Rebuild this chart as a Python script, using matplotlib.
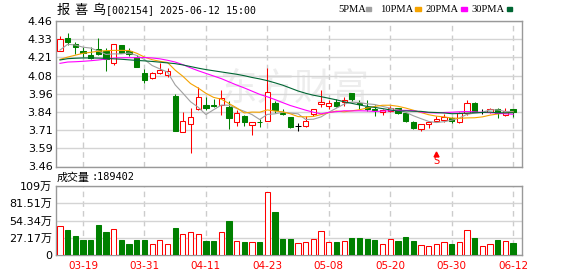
#!/usr/bin/env python
import numpy as np
import matplotlib
matplotlib.use("Agg")
import matplotlib.pyplot as plt
from matplotlib.patches import Rectangle

plt.rcParams["font.family"] = ["DejaVu Sans", "Noto Sans CJK SC"]

W, H = 578, 276

opens = [4.256, 4.343, 4.302, 4.256, 4.226, 4.265, 4.256, 4.174, 4.295, 4.256,
         4.210, 4.105, 4.070, 4.105, 4.089, 3.945, 3.700, 3.750, 3.853, 3.881,
         3.881, 3.881, 3.867, 3.764, 3.807, 3.744, 3.768, 3.775, 3.899, 3.826,
         3.799, 3.739, 3.741, 3.819, 3.891, 3.878, 3.906, 3.904, 3.963, 3.899,
         3.871, 3.856, 3.833, 3.844, 3.860, 3.830, 3.766, 3.718, 3.753, 3.775,
         3.780, 3.793, 3.766, 3.830, 3.895, 3.833, 3.835, 3.853, 3.815, 3.856]
highs = [4.357, 4.380, 4.316, 4.279, 4.279, 4.343, 4.272, 4.302, 4.295, 4.272,
         4.224, 4.128, 4.112, 4.174, 4.135, 3.958, 3.837, 3.860, 4.009, 3.940,
         3.924, 3.986, 3.913, 3.849, 3.812, 3.764, 3.787, 4.135, 3.913, 3.853,
         3.799, 3.762, 3.810, 3.858, 3.986, 3.917, 3.922, 3.940, 3.968, 3.917,
         3.917, 3.881, 3.858, 3.876, 3.864, 3.835, 3.773, 3.753, 3.773, 3.807,
         3.819, 3.800, 3.837, 3.917, 3.902, 3.853, 3.864, 3.862, 3.860, 3.856]
lows = [4.256, 4.297, 4.233, 4.215, 4.196, 4.224, 4.119, 4.160, 4.238, 4.219,
        4.142, 4.036, 4.059, 4.096, 4.073, 3.706, 3.700, 3.555, 3.849, 3.849,
        3.867, 3.814, 3.720, 3.741, 3.739, 3.679, 3.734, 3.772, 3.830, 3.812,
        3.727, 3.707, 3.734, 3.807, 3.867, 3.853, 3.867, 3.878, 3.913, 3.858,
        3.844, 3.810, 3.814, 3.837, 3.821, 3.768, 3.716, 3.704, 3.727, 3.764,
        3.766, 3.762, 3.762, 3.814, 3.833, 3.819, 3.826, 3.793, 3.807, 3.803]
closes = [4.334, 4.316, 4.279, 4.238, 4.203, 4.233, 4.196, 4.302, 4.238, 4.233,
          4.146, 4.055, 4.100, 4.123, 4.119, 3.706, 3.773, 3.803, 3.936, 3.865,
          3.874, 3.933, 3.796, 3.826, 3.766, 3.764, 3.763, 3.970, 3.849, 3.819,
          3.734, 3.739, 3.775, 3.858, 3.900, 3.894, 3.876, 3.917, 3.922, 3.888,
          3.853, 3.851, 3.849, 3.864, 3.830, 3.773, 3.727, 3.753, 3.768, 3.789,
          3.803, 3.776, 3.830, 3.895, 3.833, 3.833, 3.853, 3.830, 3.842, 3.833]
# volume in 万 shares
volumes = [45.5, 39.2, 29.8, 23.5, 23.5, 46.5, 36.1, 40.2, 23.5, 17.2,
           23.5, 23.5, 17.2, 23.0, 17.2, 42.3, 32.9, 36.1, 32.9, 21.9,
           21.9, 36.1, 53.3, 21.9, 20.4, 20.4, 20.4, 99.8, 67.4, 25.1,
           25.1, 18.8, 20.4, 25.1, 37.6, 20.4, 20.4, 21.9, 26.6, 26.6,
           25.1, 23.5, 17.2, 25.1, 21.9, 28.2, 21.9, 15.2, 13.6, 17.2,
           20.4, 17.2, 20.4, 39.2, 26.6, 13.6, 17.2, 23.5, 21.9, 18.94]

ma5 = [4.260, 4.300, 4.295, 4.280, 4.274, 4.254, 4.230, 4.234, 4.234, 4.240,
       4.223, 4.195, 4.154, 4.131, 4.109, 4.021, 3.964, 3.905, 3.867, 3.817,
       3.850, 3.882, 3.881, 3.859, 3.839, 3.817, 3.783, 3.818, 3.822, 3.833,
       3.827, 3.822, 3.783, 3.785, 3.801, 3.833, 3.861, 3.889, 3.902, 3.899,
       3.891, 3.886, 3.873, 3.861, 3.849, 3.833, 3.809, 3.789, 3.770, 3.762,
       3.768, 3.778, 3.793, 3.819, 3.827, 3.833, 3.849, 3.849, 3.838, 3.838]
ma10 = [4.196, 4.212, 4.225, 4.238, 4.245, 4.252, 4.256, 4.258, 4.258, 4.257,
        4.238, 4.212, 4.194, 4.183, 4.175, 4.122, 4.080, 4.030, 3.999, 3.963,
        3.935, 3.923, 3.893, 3.863, 3.828, 3.834, 3.833, 3.849, 3.841, 3.836,
        3.822, 3.803, 3.801, 3.804, 3.817, 3.830, 3.841, 3.836, 3.843, 3.850,
        3.862, 3.873, 3.881, 3.881, 3.874, 3.862, 3.847, 3.831, 3.816, 3.806,
        3.801, 3.793, 3.791, 3.794, 3.795, 3.801, 3.813, 3.821, 3.828, 3.833]
ma20 = [4.169, 4.178, 4.180, 4.183, 4.187, 4.192, 4.199, 4.206, 4.207, 4.208,
        4.208, 4.209, 4.206, 4.200, 4.190, 4.178, 4.160, 4.138, 4.118, 4.100,
        4.082, 4.064, 4.042, 4.020, 4.000, 3.978, 3.956, 3.939, 3.920, 3.899,
        3.879, 3.863, 3.847, 3.833, 3.822, 3.832, 3.837, 3.843, 3.842, 3.843,
        3.842, 3.838, 3.841, 3.843, 3.846, 3.846, 3.844, 3.834, 3.830, 3.828,
        3.831, 3.833, 3.836, 3.838, 3.835, 3.832, 3.830, 3.826, 3.822, 3.819]
ma30 = [4.192, 4.201, 4.204, 4.206, 4.206, 4.205, 4.203, 4.200, 4.197, 4.193,
        4.189, 4.186, 4.182, 4.177, 4.172, 4.167, 4.158, 4.147, 4.136, 4.126,
        4.118, 4.110, 4.102, 4.094, 4.084, 4.072, 4.062, 4.050, 4.035, 4.019,
        3.999, 3.979, 3.963, 3.950, 3.940, 3.929, 3.918, 3.905, 3.894, 3.883,
        3.873, 3.866, 3.858, 3.849, 3.840, 3.842, 3.840, 3.839, 3.833, 3.831,
        3.828, 3.823, 3.824, 3.827, 3.829, 3.831, 3.834, 3.829, 3.829, 3.830]

date_idx = [3, 11, 19, 27, 35, 43, 51, 59]
date_labels = ["03-19", "03-31", "04-11", "04-23", "05-08", "05-20", "05-30", "06-12"]
price_ticks = [3.46, 3.585, 3.71, 3.835, 3.96, 4.085, 4.21, 4.335, 4.46]
price_labels = ["3.46", "3.59", "3.71", "3.84", "3.96", "4.08", "4.21", "4.33", "4.46"]
vol_ticks = [0, 27.17, 54.34, 81.51, 108.68]
vol_labels = ["0", "27.17万", "54.34万", "81.51万", "109万"]
signal_idx = 49

RED, GREEN, BLACK = "#ff0000", "#008000", "#000000"
FRAME, GRID = "#999999", "#d4d4d4"
XLIM = (-0.52, 60.16)
BODY_W = 0.68
LW = 0.75


def style_axes(ax):
    for sp in ax.spines.values():
        sp.set_color(FRAME)
        sp.set_linewidth(1)
    ax.set_xlim(*XLIM)
    ax.set_xticks(date_idx)
    ax.tick_params(length=0, labelsize=8, pad=2.5)
    ax.yaxis.grid(True, color=GRID, linewidth=1)
    ax.xaxis.grid(True, color="#cccccc", linewidth=1, linestyle=(0, (4, 3)))
    ax.set_axisbelow(True)


o, h, l, c = map(np.array, (opens, highs, lows, closes))
idx = np.arange(len(c))
up = c > o
down = c < o
edge = np.where(up, RED, np.where(down, GREEN, BLACK))
face = np.where(up, "white", np.where(down, GREEN, BLACK))

fig = plt.figure(figsize=(W / 100, H / 100), dpi=100)

ax = fig.add_axes([56 / W, 1 - 166.5 / H, 466 / W, 145.5 / H])
style_axes(ax)
ax.set_ylim(3.46, 4.46)
ax.set_yticks(price_ticks, price_labels)
ax.tick_params(axis="x", labelbottom=False)

ax.text(30.5, 3.995, "东方财富", fontsize=27, color="#ededed",
        family=["Noto Sans CJK SC"], ha="center", va="center", zorder=0.5)

ax.vlines(idx, l, h, colors=edge, linewidth=LW, zorder=2)
ax.bar(idx, np.abs(c - o), bottom=np.minimum(o, c), width=BODY_W,
       color=face, edgecolor=edge, linewidth=LW, zorder=3)

for series, color in [(ma5, "#a0a0a0"), (ma10, "#f5a300"),
                      (ma20, "#ff00ff"), (ma30, "#006633")]:
    ax.plot(idx, series, color=color, linewidth=0.8, zorder=4)

ax.plot([signal_idx], [3.546], marker="^", markersize=3.5, color=RED, zorder=5)
ax.text(signal_idx, 3.497, "S", fontsize=7, color=RED, ha="center",
        va="center", zorder=5)

ax2 = fig.add_axes([56 / W, 1 - 255 / H, 466 / W, 69 / H])
style_axes(ax2)
ax2.set_ylim(0, 108.68)
ax2.set_yticks(vol_ticks, vol_labels)
ax2.set_xticklabels(date_labels)
ax2.tick_params(axis="x", labelsize=7.5, labelcolor=RED, pad=4)
vol_up = c >= o
ax2.bar(idx, volumes, width=BODY_W,
        color=np.where(vol_up, "white", GREEN),
        edgecolor=np.where(vol_up, RED, GREEN), linewidth=LW, zorder=3)

# header texts
for ch, x in zip("报喜鸟", [56.5, 74.4, 92.0]):
    fig.text(x / W, 1 - 10.5 / H, ch, fontsize=9.5,
             family=["Noto Sans CJK SC"], va="center")
fig.text(105.5 / W, 1 - 10.5 / H, "[002154] 2025-06-12 15:00", fontsize=7.1,
         family=["DejaVu Sans Mono"], va="center")
fig.text(57 / W, 1 - 177.5 / H, "成交量", fontsize=7.9,
         family=["Noto Sans CJK SC"], va="center")
fig.text(91.5 / W, 1 - 177.5 / H, ":189402", fontsize=7.4,
         family=["DejaVu Sans Mono"], va="center")

legend = [("5PMA", 338, 365.5, "#a0a0a0"), ("10PMA", 380, 415, "#f5a300"),
          ("20PMA", 425.7, 461.3, "#ff00ff"), ("30PMA", 471.7, 506.7, "#006633")]
for label, tx, bx, color in legend:
    fig.text(tx / W, 1 - 9 / H, label, fontsize=7.6, family=["Liberation Serif"],
             va="center")
    fig.add_artist(Rectangle((bx / W, 1 - 10.5 / H), 5.5 / W, 3 / H,
                             transform=fig.transFigure, color=color))

fig.savefig("out.png", dpi=100)
